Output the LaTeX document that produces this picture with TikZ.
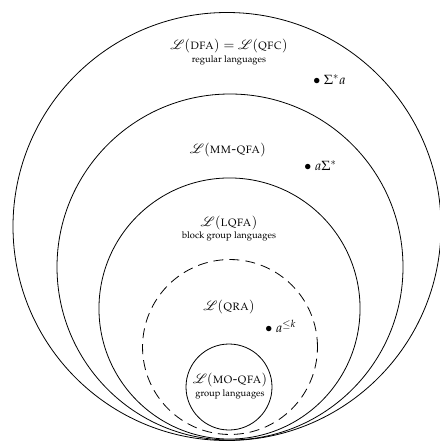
\documentclass[tikz,border=0pt]{standalone}
\usepackage[T1]{fontenc}
\usepackage{mathpazo}
\usepackage{mathrsfs}
\begin{document}
\begin{tikzpicture}[x=0.75pt,y=-0.75pt,
  ring/.style={line width=0.6pt},
  dashring/.style={line width=0.6pt,dash pattern=on 7.5pt off 4.5pt},
  lab/.style={inner sep=0pt,font=\normalsize},
  sub/.style={inner sep=0pt,font=\scriptsize},
  pt/.style={inner sep=0pt,anchor=west,font=\normalsize}]
\useasboundingbox (0,0) rectangle (439,441);
\draw[ring] (227,226.5) circle[radius=160.5pt];
\draw[ring] (230,267) circle[radius=129.75pt];
\draw[ring] (229.5,308.5) circle[radius=97.9pt];
\draw[dashring] (230,347) circle[radius=65.6pt];
\draw[ring] (229,387) circle[radius=32.25pt];
\node[lab] (t1) at (229,46) {$\mathscr{L}(\textsc{dfa}) = \mathscr{L}(\textsc{qfc})$};
\node[sub] (s1) at (229,60) {regular languages};
\node[pt] (p1) at (313,80) {$\bullet\ \Sigma^{*}a$};
\node[lab] (t2) at (228,150) {$\mathscr{L}(\textsc{mm-qfa})$};
\node[pt] (p2) at (304,166) {$\bullet\ a\Sigma^{*}$};
\node[lab] (t3) at (229,223) {$\mathscr{L}(\textsc{lqfa})$};
\node[sub] (s3) at (229,236) {block group languages};
\node[lab] (t4) at (229,307) {$\mathscr{L}(\textsc{qra})$};
\node[pt] (p4) at (265,326) {$\bullet\ a^{\leq k}$};
\node[lab] (t5) at (230,380) {$\mathscr{L}(\textsc{mo-qfa})$};
\node[sub] (s5) at (230,394) {group languages};
\end{tikzpicture}
\end{document}
